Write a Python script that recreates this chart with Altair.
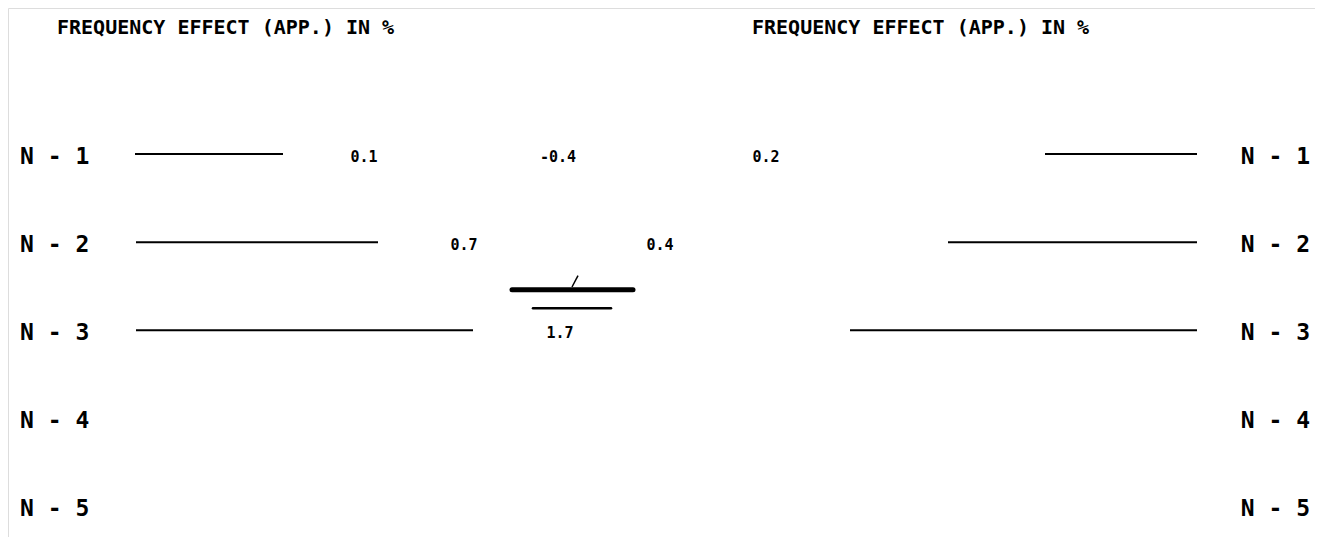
import altair as alt
import pandas as pd

# ---- data (x in tens of pixels, y in row units) ----
title_text = ["FREQUENCY EFFECT (APP.) IN %", "FREQUENCY EFFECT (APP.) IN %"]
title_x = [5.7, 75.2]
title_row = [-0.43, -0.43]

row_labels = ["N - 1", "N - 2", "N - 3", "N - 4", "N - 5"]
row_index = [1, 2, 3, 4, 5]

left_start = [13.5, 13.6, 13.6]
left_end = [28.3, 37.8, 47.3]
right_start = [104.5, 94.8, 85.0]
right_end = [119.7, 119.7, 119.7]
line_rows = [1, 2, 3]

value_text = ["0.1", "-0.4", "0.2", "0.7", "0.4", "1.7"]
value_x = [36.4, 55.8, 76.6, 46.4, 66.0, 56.0]
value_rows = [1.03, 1.03, 1.03, 2.03, 2.03, 3.03]

mark_start = [51.2, 53.3]
mark_end = [63.3, 61.1]
mark_rows = [2.54, 2.75]
mark_kind = ["thick", "thin"]

slash_x = [57.2, 57.8]
slash_rows = [2.51, 2.38]

FONT = "DejaVu Sans Mono"

xs = alt.Scale(domain=[0.8, 131.5], nice=False, zero=False)
ys = alt.Scale(domain=[-0.66, 5.35], nice=False, zero=False, reverse=True)

titles = pd.DataFrame({"t": title_text, "x": title_x, "r": title_row})
labels_l = pd.DataFrame({"t": row_labels, "r": [r + 0.03 for r in row_index], "x": [2.0] * 5})
labels_r = pd.DataFrame({"t": row_labels, "r": [r + 0.03 for r in row_index], "x": [131.0] * 5})
lines = pd.DataFrame({
    "x": left_start + right_start,
    "x2": left_end + right_end,
    "r": line_rows + line_rows,
})
values = pd.DataFrame({"t": value_text, "x": value_x, "r": value_rows})
marks = pd.DataFrame({"x": mark_start, "x2": mark_end, "r": mark_rows, "k": mark_kind})
slash = pd.DataFrame({"x": [slash_x[0]], "x2": [slash_x[1]], "r": [slash_rows[0]], "r2": [slash_rows[1]]})

X = lambda f: alt.X(f, type="quantitative", scale=xs, axis=None)
Y = lambda f: alt.Y(f, type="quantitative", scale=ys, axis=None)

t_layer = alt.Chart(titles).mark_text(
    font=FONT, fontSize=20, fontWeight="bold", align="left", baseline="middle", color="black"
).encode(x=X("x"), y=Y("r"), text="t:N")

l_layer = alt.Chart(labels_l).mark_text(
    font=FONT, fontSize=23, fontWeight="bold", align="left", baseline="middle", color="black"
).encode(x=X("x"), y=Y("r"), text="t:N")

r_layer = alt.Chart(labels_r).mark_text(
    font=FONT, fontSize=23, fontWeight="bold", align="right", baseline="middle", color="black"
).encode(x=X("x"), y=Y("r"), text="t:N")

line_layer = alt.Chart(lines).mark_rule(color="black", strokeWidth=2).encode(
    x=X("x"), x2="x2", y=Y("r")
)

v_layer = alt.Chart(values).mark_text(
    font=FONT, fontSize=15, fontWeight="bold", align="center", baseline="middle", color="black"
).encode(x=X("x"), y=Y("r"), text="t:N")

m_layer = alt.Chart(marks).mark_rule(color="black", strokeCap="round").encode(
    x=X("x"), x2="x2", y=Y("r"),
    strokeWidth=alt.StrokeWidth("k:N", scale=alt.Scale(domain=["thick", "thin"], range=[5, 2.5]), legend=None),
)

s_layer = alt.Chart(slash).mark_rule(color="black", strokeWidth=1.5).encode(
    x=X("x"), x2="x2", y=Y("r"), y2="r2"
)

chart = alt.layer(t_layer, l_layer, r_layer, line_layer, v_layer, m_layer, s_layer).properties(
    width=1307, height=529, padding=0,
    autosize=alt.AutoSizeParams(type="fit", contains="padding"),
).configure_view(stroke=None).configure(background="white")

chart.save("out.html", embed_options={"renderer": "svg", "actions": False})
